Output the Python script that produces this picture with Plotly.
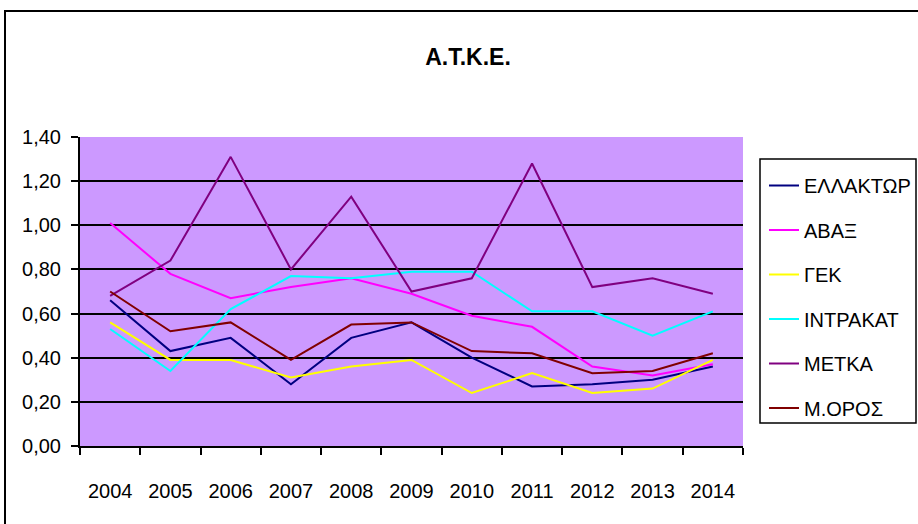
import plotly.graph_objects as go

years = ["2004", "2005", "2006", "2007", "2008", "2009", "2010", "2011", "2012", "2013", "2014"]
ellaktor = [0.66, 0.43, 0.49, 0.28, 0.49, 0.56, 0.40, 0.27, 0.28, 0.30, 0.36]
avax = [1.01, 0.78, 0.67, 0.72, 0.76, 0.69, 0.59, 0.54, 0.36, 0.32, 0.37]
gek = [0.56, 0.39, 0.39, 0.31, 0.36, 0.39, 0.24, 0.33, 0.24, 0.26, 0.39]
intrakat = [0.53, 0.34, 0.62, 0.77, 0.76, 0.79, 0.79, 0.61, 0.61, 0.50, 0.61]
metka = [0.68, 0.84, 1.31, 0.80, 1.13, 0.70, 0.76, 1.28, 0.72, 0.76, 0.69]
mesos = [0.70, 0.52, 0.56, 0.39, 0.55, 0.56, 0.43, 0.42, 0.33, 0.34, 0.42]

names = ["ΕΛΛΑΚΤΩΡ", "ΑΒΑΞ", "ΓΕΚ", "ΙΝΤΡΑΚΑΤ", "ΜΕΤΚΑ", "Μ.ΟΡΟΣ"]
series = [ellaktor, avax, gek, intrakat, metka, mesos]
colors = ["#000080", "#FF00FF", "#FFFF00", "#00FFFF", "#800080", "#800000"]

FONT = "Liberation Sans, Arial, sans-serif"

W, H = 918, 524
L, R, T, B = 80, 743, 137, 446
pw, ph = R - L, B - T


def px(x):
    return (x - L) / pw


def py(y):
    return (B - y) / ph


fig = go.Figure()
for n, s, c in zip(names, series, colors):
    fig.add_trace(go.Scatter(x=years, y=s, name=n, mode="lines",
                             line=dict(color=c, width=2), legendgroup=n))

fig.update_layout(
    width=W, height=H,
    margin=dict(l=L, r=W - R, t=T, b=H - B, autoexpand=False),
    paper_bgcolor="white",
    plot_bgcolor="#CC99FF",
    separators=", ",
    font=dict(family=FONT, size=20, color="black"),
    title=dict(text="<b>Α.Τ.Κ.Ε.</b>", x=468 / W, xanchor="center",
               y=1 - 57 / H, yanchor="middle", font=dict(size=23, family=FONT)),
    showlegend=True,
    legend=dict(x=px(764), y=py(166), xanchor="left", yanchor="top",
                bgcolor="rgba(0,0,0,0)", borderwidth=0,
                font=dict(size=20, family=FONT),
                traceorder="grouped", tracegroupgap=15.5, itemwidth=30),
    xaxis=dict(type="category", range=[-0.5, 10.5], showgrid=False,
               showline=True, linecolor="black", linewidth=2,
               ticks="outside", ticklen=7, tickwidth=1.5, tickcolor="black",
               tickson="boundaries", ticklabelstandoff=26,
               tickfont=dict(size=20, family=FONT)),
    yaxis=dict(range=[0, 1.4], dtick=0.2, tickformat=".2f",
               showgrid=True, gridcolor="black", gridwidth=2,
               showline=True, linecolor="black", linewidth=2,
               zeroline=False,
               ticks="outside", ticklen=7, tickwidth=1.5, tickcolor="black",
               ticklabelstandoff=6,
               tickfont=dict(size=20, family=FONT)),
    shapes=[
        dict(type="rect", xref="paper", yref="paper",
             x0=px(5), x1=px(925), y0=py(535), y1=py(11),
             line=dict(color="black", width=2), fillcolor="rgba(0,0,0,0)", layer="below"),
        dict(type="rect", xref="paper", yref="paper",
             x0=px(760), x1=px(916), y0=py(423), y1=py(159),
             line=dict(color="black", width=1.5), fillcolor="rgba(0,0,0,0)"),
    ],
)

fig.write_html("out.html")
